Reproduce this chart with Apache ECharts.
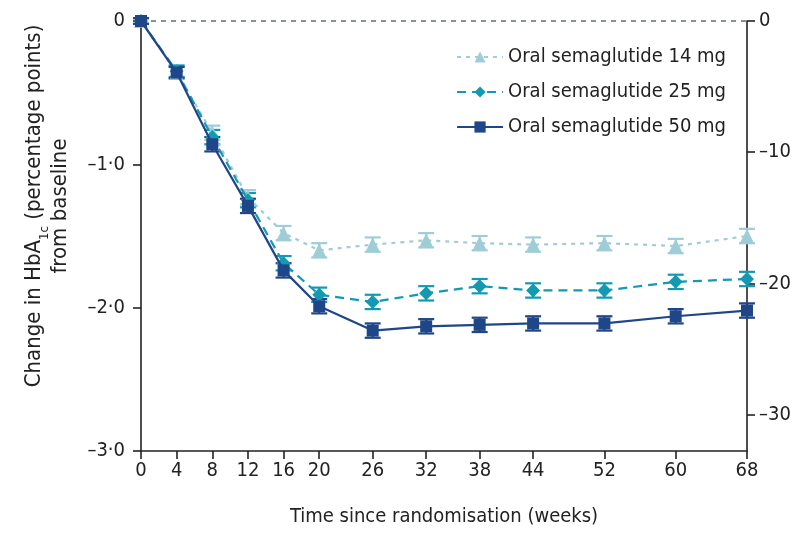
<!DOCTYPE html>
<html>
<head>
<meta charset="utf-8">
<script src="https://cdn.jsdelivr.net/npm/echarts@6/dist/echarts.min.js"></script>
<style>
  html, body { margin: 0; padding: 0; background: #fff; }
  #chart { width: 795px; height: 548px; }
</style>
</head>
<body>
<div id="chart"></div>
<script>
// Weeks since randomisation
const weeks = [0, 4, 8, 12, 16, 20, 26, 32, 38, 44, 52, 60, 68];
const weekTicks = [0, 4, 8, 12, 16, 20, 26, 32, 38, 44, 52, 60, 68];

// Mean change in HbA1c (percentage points)
const sema14 = [0, -0.36, -0.78, -1.23, -1.48, -1.60, -1.56, -1.53, -1.55, -1.56, -1.55, -1.57, -1.50];
const sema25 = [0, -0.35, -0.81, -1.25, -1.69, -1.91, -1.96, -1.90, -1.85, -1.88, -1.88, -1.82, -1.80];
const sema50 = [0, -0.36, -0.86, -1.29, -1.74, -1.99, -2.16, -2.13, -2.12, -2.11, -2.11, -2.06, -2.02];

// Standard errors (half-width of error bars)
const se14 = [0.02, 0.04, 0.05, 0.05, 0.05, 0.05, 0.05, 0.05, 0.05, 0.05, 0.05, 0.05, 0.05];
const se25 = [0.02, 0.04, 0.05, 0.05, 0.05, 0.05, 0.05, 0.05, 0.05, 0.05, 0.05, 0.05, 0.05];
const se50 = [0.02, 0.04, 0.05, 0.05, 0.05, 0.05, 0.05, 0.05, 0.05, 0.05, 0.05, 0.05, 0.05];

// Axis ticks
const mmolTicks = [0, -10, -20, -30];
const PCT_TO_MMOL = 10.929;

const names = ['Oral semaglutide 14 mg', 'Oral semaglutide 25 mg', 'Oral semaglutide 50 mg'];
const colors = ['#9fcdd7', '#1399b2', '#1f4688'];
const FONT = '"DejaVu Sans Condensed", "Open Sans", sans-serif';
const dash = '\u2013';

function pair(xs, ys) { return xs.map((x, i) => [x, ys[i]]); }

function errorBars(name, ys, se, color) {
  return {
    type: 'custom',
    name: name + ' SE',
    xAxisIndex: 0,
    yAxisIndex: 0,
    z: 3,
    data: weeks.map((w, i) => [w, ys[i] - se[i], ys[i] + se[i]]),
    renderItem: function (params, api) {
      const lo = api.coord([api.value(0), api.value(1)]);
      const hi = api.coord([api.value(0), api.value(2)]);
      const hw = 8;
      const style = { stroke: color, lineWidth: 2.2 };
      return {
        type: 'group',
        children: [
          { type: 'line', shape: { x1: lo[0], y1: lo[1], x2: hi[0], y2: hi[1] }, style: style },
          { type: 'line', shape: { x1: lo[0] - hw, y1: lo[1], x2: lo[0] + hw, y2: lo[1] }, style: style },
          { type: 'line', shape: { x1: hi[0] - hw, y1: hi[1], x2: hi[0] + hw, y2: hi[1] }, style: style }
        ]
      };
    }
  };
}

const axisLineStyle = { color: '#222', width: 1.6 };
const labelStyle = { color: '#222', fontFamily: FONT, fontSize: 20 };

const option = {
  animation: false,
  backgroundColor: '#fff',
  grid: { left: 141, right: 48, top: 21, bottom: 97, containLabel: false, outerBoundsMode: 'none' },
  legend: {
    data: names.slice(),
    orient: 'vertical',
    right: 64,
    top: 42,
    itemWidth: 46,
    itemHeight: 14,
    itemGap: 15,
    textStyle: { color: '#222', fontFamily: FONT, fontSize: 20 },
    backgroundColor: 'transparent'
  },
  xAxis: {
    type: 'value',
    min: 0,
    max: 68,
    name: 'Time since randomisation (weeks)',
    nameLocation: 'middle',
    nameGap: 56,
    nameTextStyle: { color: '#222', fontFamily: FONT, fontSize: 20 },
    axisLine: { show: true, onZero: false, lineStyle: axisLineStyle },
    axisTick: { show: true, length: 8, lineStyle: axisLineStyle, customValues: weekTicks },
    axisLabel: Object.assign({ margin: 10, customValues: weekTicks }, labelStyle),
    splitLine: { show: false }
  },
  yAxis: [
    {
      type: 'value',
      min: -3,
      max: 0,
      interval: 1,
      position: 'left',
      name: 'Change in HbA{sub|1c} (percentage points)\nfrom baseline',
      nameLocation: 'middle',
      nameRotate: 90,
      nameGap: 68,
      nameTextStyle: {
        color: '#222', fontFamily: FONT, fontSize: 22, lineHeight: 26, align: 'center',
        padding: [0, 0, 0, 60],
        rich: { sub: { fontSize: 13, fontFamily: FONT, color: '#222', verticalAlign: 'bottom', lineHeight: 26, padding: [0, 0, -4, 0] } }
      },
      axisLine: { show: true, onZero: false, lineStyle: axisLineStyle },
      axisTick: { show: true, length: 8, lineStyle: axisLineStyle },
      axisLabel: Object.assign({
        margin: 16,
        formatter: v => v === 0 ? '0' : dash + Math.abs(v).toFixed(1).replace('.', '\u00b7')
      }, labelStyle),
      splitLine: { show: false }
    },
    {
      type: 'value',
      min: -3 * PCT_TO_MMOL,
      max: 0,
      position: 'right',
      axisLine: { show: true, onZero: false, lineStyle: axisLineStyle },
      axisTick: { show: true, length: 8, lineStyle: axisLineStyle, customValues: mmolTicks },
      axisLabel: Object.assign({
        margin: 12,
        customValues: mmolTicks,
        formatter: v => v === 0 ? '0' : dash + Math.abs(v)
      }, labelStyle),
      splitLine: { show: false }
    }
  ],
  series: [
    errorBars(names[0], sema14, se14, colors[0]),
    {
      type: 'line',
      name: names[0],
      data: pair(weeks, sema14),
      z: 4,
      color: colors[0],
      symbol: 'triangle',
      symbolSize: 14,
      lineStyle: { color: colors[0], width: 2.2, type: [4, 5] },
      itemStyle: { color: colors[0] },
      markLine: {
        silent: true,
        symbol: 'none',
        label: { show: false },
        lineStyle: { color: '#5f6e78', width: 1.6, type: [5, 5] },
        data: [{ yAxis: 0 }]
      }
    },
    errorBars(names[1], sema25, se25, colors[1]),
    {
      type: 'line',
      name: names[1],
      data: pair(weeks, sema25),
      z: 5,
      color: colors[1],
      symbol: 'diamond',
      symbolSize: 14,
      lineStyle: { color: colors[1], width: 2.2, type: [9, 6] },
      itemStyle: { color: colors[1] }
    },
    errorBars(names[2], sema50, se50, colors[2]),
    {
      type: 'line',
      name: names[2],
      data: pair(weeks, sema50),
      z: 6,
      color: colors[2],
      symbol: 'rect',
      symbolSize: 12,
      lineStyle: { color: colors[2], width: 2.2 },
      itemStyle: { color: colors[2] }
    }
  ]
};

const chart = echarts.init(document.getElementById('chart'), null, { renderer: 'canvas' });
chart.setOption(option);
</script>
</body>
</html>
